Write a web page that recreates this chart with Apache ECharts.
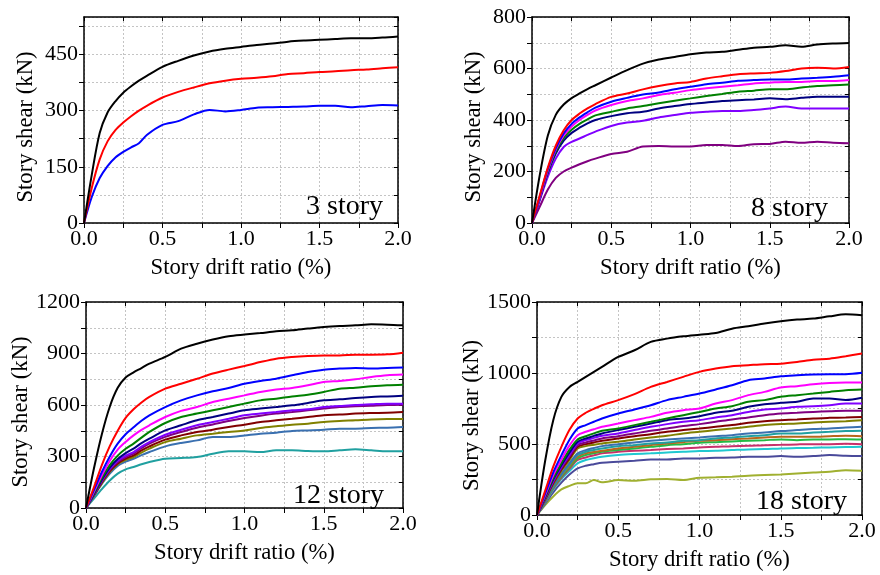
<!DOCTYPE html>
<html>
<head>
<meta charset="utf-8">
<script src="https://cdn.jsdelivr.net/npm/echarts@6/dist/echarts.min.js"></script>
<style>
  html, body { margin: 0; padding: 0; background: #fff; }
  #chart { width: 880px; height: 575px; }
</style>
</head>
<body>
<div id="chart"></div>
<script>
// ---------- shared x values: story drift ratio (%) ----------
const drift = [0, 0.05, 0.1, 0.15, 0.2, 0.25, 0.3, 0.35, 0.4, 0.5, 0.6, 0.7, 0.8, 0.9, 1.0, 1.1, 1.2, 1.3, 1.4, 1.5, 1.6, 1.7, 1.8, 1.9, 2.0];

// ---------- 3 story ----------
const s3_1 = [0,130,240,295,325,348,365,380,393,417,433,447,458,465,470,475,479,484,487,489,491,493,493,495,498];
const s3_2 = [0,95,170,218,248,268,285,300,313,335,350,362,373,380,385,388,392,398,400,403,405,408,410,413,416];
const s3_3 = [0,70,120,152,175,190,202,213,235,262,272,290,302,298,302,308,309,310,311,313,313,309,312,315,314];

// ---------- 8 story ----------
const s8_1 = [0,190,340,420,460,485,503,520,535,565,594,619,635,645,655,662,665,673,681,684,690,684,693,697,699];
const s8_2 = [0,110,215,300,360,400,425,445,462,490,503,519,532,542,548,561,570,578,581,583,590,600,603,600,606];
const s8_3 = [0,105,210,290,348,385,410,430,448,471,486,499,507,519,529,539,545,552,555,557,557,561,564,568,574];
const s8_4 = [0,100,205,285,340,375,400,420,437,458,474,484,497,506,516,523,529,535,542,545,548,548,551,551,555];
const s8_5 = [0,100,200,278,330,362,385,402,418,432,445,454,465,475,484,493,501,510,514,519,519,526,532,535,538];
const s8_6 = [0,95,195,270,320,350,370,387,400,415,426,432,445,454,462,468,474,477,480,484,481,486,490,490,490];
const s8_7 = [0,90,180,250,295,315,328,342,355,377,390,397,410,419,428,432,435,435,439,445,452,445,445,445,445];
const s8_8 = [0,65,130,175,200,215,228,240,250,268,277,297,299,297,297,303,303,299,306,307,316,312,316,312,310];

// ---------- 12 story ----------
const s12_1 = [0,230,430,590,700,760,790,815,841,880,928,957,981,1000,1010,1019,1029,1035,1045,1054,1060,1064,1070,1068,1064];
const s12_2 = [0,120,250,360,450,525,575,615,647,695,724,753,783,806,827,850,870,880,886,889,889,893,893,895,905];
const s12_3 = [0,105,210,300,375,430,470,508,540,588,627,656,680,699,724,740,753,773,792,806,812,816,812,816,818];
const s12_4 = [0,95,190,275,340,385,423,455,482,530,566,588,617,637,656,676,690,699,715,734,740,750,763,773,777];
const s12_5 = [0,85,175,250,305,345,375,410,443,495,530,550,569,588,608,627,637,650,660,676,695,701,709,715,718];
const s12_6 = [0,80,165,235,285,320,346,378,404,452,482,511,530,550,569,579,588,598,612,627,633,641,647,650,654];
const s12_7 = [0,78,160,228,275,305,326,358,384,427,456,482,501,520,540,550,559,569,575,588,594,600,604,608,608];
const s12_8 = [0,76,155,222,268,297,317,348,375,414,443,468,487,507,524,538,550,559,569,579,588,592,596,600,602];
const s12_9 = [0,74,150,215,260,288,307,335,359,398,423,443,456,472,485,501,511,520,530,540,544,550,553,555,559];
const s12_10 = [0,72,145,210,255,280,297,323,346,384,404,423,433,443,452,466,476,485,491,501,507,511,516,518,518];
const s12_11 = [0,70,140,200,245,270,287,308,326,359,379,394,414,414,423,433,439,449,452,456,462,462,466,468,472];
const s12_12 = [0,55,110,160,200,225,239,255,268,287,291,297,316,330,330,326,336,336,332,330,336,342,336,330,330];

// ---------- 18 story ----------
const s18_1 = [0,380,668,832,902,937,973,1008,1043,1113,1160,1219,1242,1258,1270,1282,1312,1329,1348,1364,1376,1383,1399,1413,1406];
const s18_2 = [0,170,340,480,600,680,720,748,773,809,851,902,937,973,1008,1031,1048,1055,1062,1066,1078,1094,1101,1118,1137];
const s18_3 = [0,150,300,420,530,609,633,657,680,715,743,773,809,832,855,884,914,949,961,977,984,989,991,991,1001];
const s18_4 = [0,140,280,390,490,562,586,604,621,644,668,691,720,738,750,785,809,844,867,898,907,921,930,933,933];
const s18_5 = [0,130,260,365,460,532,555,575,593,609,633,656,680,703,726,750,766,797,809,832,844,855,867,879,884];
const s18_6 = [0,125,250,350,440,516,539,557,574,598,621,644,668,680,696,720,734,762,780,790,797,820,820,809,825];
const s18_7 = [0,120,240,340,425,504,527,543,558,574,598,621,640,656,668,687,703,726,743,750,762,766,773,785,785];
const s18_8 = [0,115,232,330,412,492,511,525,539,555,574,593,609,626,640,656,673,687,703,715,720,726,731,734,734];
const s18_9 = [0,110,225,320,400,480,499,511,523,539,555,569,586,598,609,621,633,649,661,668,673,680,684,687,691];
const s18_10 = [0,108,218,310,388,469,485,495,504,516,532,546,558,574,586,598,609,621,633,640,644,652,656,661,668];
const s18_11 = [0,100,205,290,365,434,457,472,485,499,511,523,532,539,546,555,562,574,581,591,598,605,609,616,621];
const s18_12 = [0,98,200,283,355,422,445,458,469,485,492,504,511,523,527,539,546,555,562,574,574,581,586,591,593];
const s18_13 = [0,96,195,276,345,410,434,444,452,469,480,492,504,513,523,527,534,539,546,551,551,551,555,558,555];
const s18_14 = [0,94,190,270,335,398,422,435,445,457,469,480,492,499,509,513,518,523,527,532,527,532,532,534,532];
const s18_15 = [0,92,185,262,325,387,405,420,434,445,452,457,464,469,476,480,485,487,492,494,497,499,499,501,499];
const s18_16 = [0,88,178,252,310,363,387,400,410,422,429,434,441,445,450,452,457,462,464,469,471,473,476,478,480];
const s18_17 = [0,80,160,228,285,328,347,358,368,375,382,391,391,398,398,403,405,410,410,415,410,415,422,417,415];
const s18_18 = [0,70,130,180,205,223,223,246,230,246,241,251,253,246,262,265,270,277,281,286,293,300,305,316,312];

// ---------- colours ----------
const colors3 = ['#000000', '#ff0000', '#0000ff'];
const colors8 = ['#000000', '#ff0000', '#0000ff', '#ff00ff', '#008000', '#000080', '#8000ff', '#800080'];
const colors12 = ['#000000', '#ff0000', '#0000ff', '#ff00ff', '#008000', '#000080', '#8000ff', '#800080', '#800000', '#808000', '#3a70b0', '#20a0a0'];
const colors18 = ['#000000', '#ff0000', '#0000ff', '#ff00ff', '#008000', '#000080', '#8000ff', '#800080', '#800000', '#808000', '#3a70b0', '#20a0a0', '#b8661c', '#22bb44', '#c8306a', '#20c8d0', '#4a4a9a', '#a0b030'];

// ---------- axis / panel labels ----------
const xAxisTitle = 'Story drift ratio (%)';
const yAxisTitle = 'Story shear (kN)';
const panelTitles = ['3 story', '8 story', '12 story', '18 story'];
const yMax = [550, 800, 1200, 1500];
const yStep = [75, 100, 150, 250];
const yLabelStep = [150, 200, 300, 500];

const panels = [
  { data: [s3_1, s3_2, s3_3], colors: colors3,
    grid: { left: 84, top: 17, width: 314, height: 206 }, titleRight: 497, titleTop: 193, yGap: 46 },
  { data: [s8_1, s8_2, s8_3, s8_4, s8_5, s8_6, s8_7, s8_8], colors: colors8,
    grid: { left: 532, top: 17, width: 317, height: 206 }, titleRight: 52, titleTop: 195, yGap: 46 },
  { data: [s12_1, s12_2, s12_3, s12_4, s12_5, s12_6, s12_7, s12_8, s12_9, s12_10, s12_11, s12_12], colors: colors12,
    grid: { left: 86, top: 302, width: 317, height: 206 }, titleRight: 496, titleTop: 482, yGap: 46 },
  { data: [s18_1, s18_2, s18_3, s18_4, s18_5, s18_6, s18_7, s18_8, s18_9, s18_10, s18_11, s18_12, s18_13, s18_14, s18_15, s18_16, s18_17, s18_18], colors: colors18,
    grid: { left: 537, top: 302, width: 325, height: 213 }, titleRight: 33, titleTop: 488, yGap: 48 }
];

const FONT = "'Liberation Serif', 'Times New Roman', serif";
const gridLine = { show: true, lineStyle: { color: '#c4c4c4', type: [2, 2], width: 1 } };
const frameLine = { show: true, onZero: false, lineStyle: { color: '#000', width: 1.5 } };

const grids = [], xAxes = [], yAxes = [], series = [], titles = [];
panels.forEach((p, i) => {
  grids.push(Object.assign({ containLabel: false }, p.grid));
  // bottom x axis
  xAxes.push({
    type: 'value', gridIndex: i, position: 'bottom', min: 0, max: 2, interval: 0.25,
    axisLine: frameLine,
    axisTick: { show: true, inside: false, length: 5, lineStyle: { color: '#000', width: 1 } },
    axisLabel: {
      color: '#000', fontFamily: FONT, fontSize: 22, margin: 5,
      formatter: v => (Math.abs(v * 2 - Math.round(v * 2)) < 1e-6 ? v.toFixed(1) : '')
    },
    splitLine: gridLine,
    name: xAxisTitle, nameLocation: 'middle', nameGap: 34,
    nameTextStyle: { color: '#000', fontFamily: FONT, fontSize: 22.7 }
  });
  // top x axis (frame)
  xAxes.push({
    type: 'value', gridIndex: i, position: 'top', min: 0, max: 2, interval: 0.25,
    axisLine: frameLine,
    axisTick: { show: true, inside: true, length: 4, lineStyle: { color: '#000', width: 1 } },
    axisLabel: { show: false }, splitLine: { show: false }
  });
  // left y axis
  yAxes.push({
    type: 'value', gridIndex: i, position: 'left', min: 0, max: yMax[i], interval: yStep[i],
    axisLine: frameLine,
    axisTick: { show: true, inside: false, length: 5, lineStyle: { color: '#000', width: 1 } },
    axisLabel: {
      color: '#000', fontFamily: FONT, fontSize: 22, margin: 6, showMaxLabel: yMax[i] % yLabelStep[i] === 0,
      formatter: v => (v % yLabelStep[i] === 0 ? String(v) : '')
    },
    splitLine: gridLine,
    name: yAxisTitle, nameLocation: 'middle', nameGap: p.yGap,
    nameTextStyle: { color: '#000', fontFamily: FONT, fontSize: 22.7, padding: [0, 14, 0, 0] }
  });
  // right y axis (frame)
  yAxes.push({
    type: 'value', gridIndex: i, position: 'right', min: 0, max: yMax[i], interval: yStep[i],
    axisLine: frameLine,
    axisTick: { show: true, inside: true, length: 4, lineStyle: { color: '#000', width: 1 } },
    axisLabel: { show: false }, splitLine: { show: false }
  });
  p.data.forEach((arr, k) => {
    series.push({
      type: 'line', xAxisIndex: i * 2, yAxisIndex: i * 2,
      data: drift.map((x, j) => [x, arr[j]]),
      showSymbol: false, symbol: 'none', silent: true, animation: false,
      smooth: 0.3,
      z: 10 + p.data.length - k,
      lineStyle: { color: p.colors[k], width: 2 }
    });
  });
  titles.push({
    text: panelTitles[i], right: p.titleRight, top: p.titleTop, padding: 0,
    textStyle: { color: '#000', fontFamily: FONT, fontSize: 28, fontWeight: 'normal' }
  });
});

const chart = echarts.init(document.getElementById('chart'), null, { renderer: 'canvas' });
chart.setOption({
  backgroundColor: '#fff',
  animation: false,
  title: titles,
  grid: grids,
  xAxis: xAxes,
  yAxis: yAxes,
  series: series
});
</script>
</body>
</html>
